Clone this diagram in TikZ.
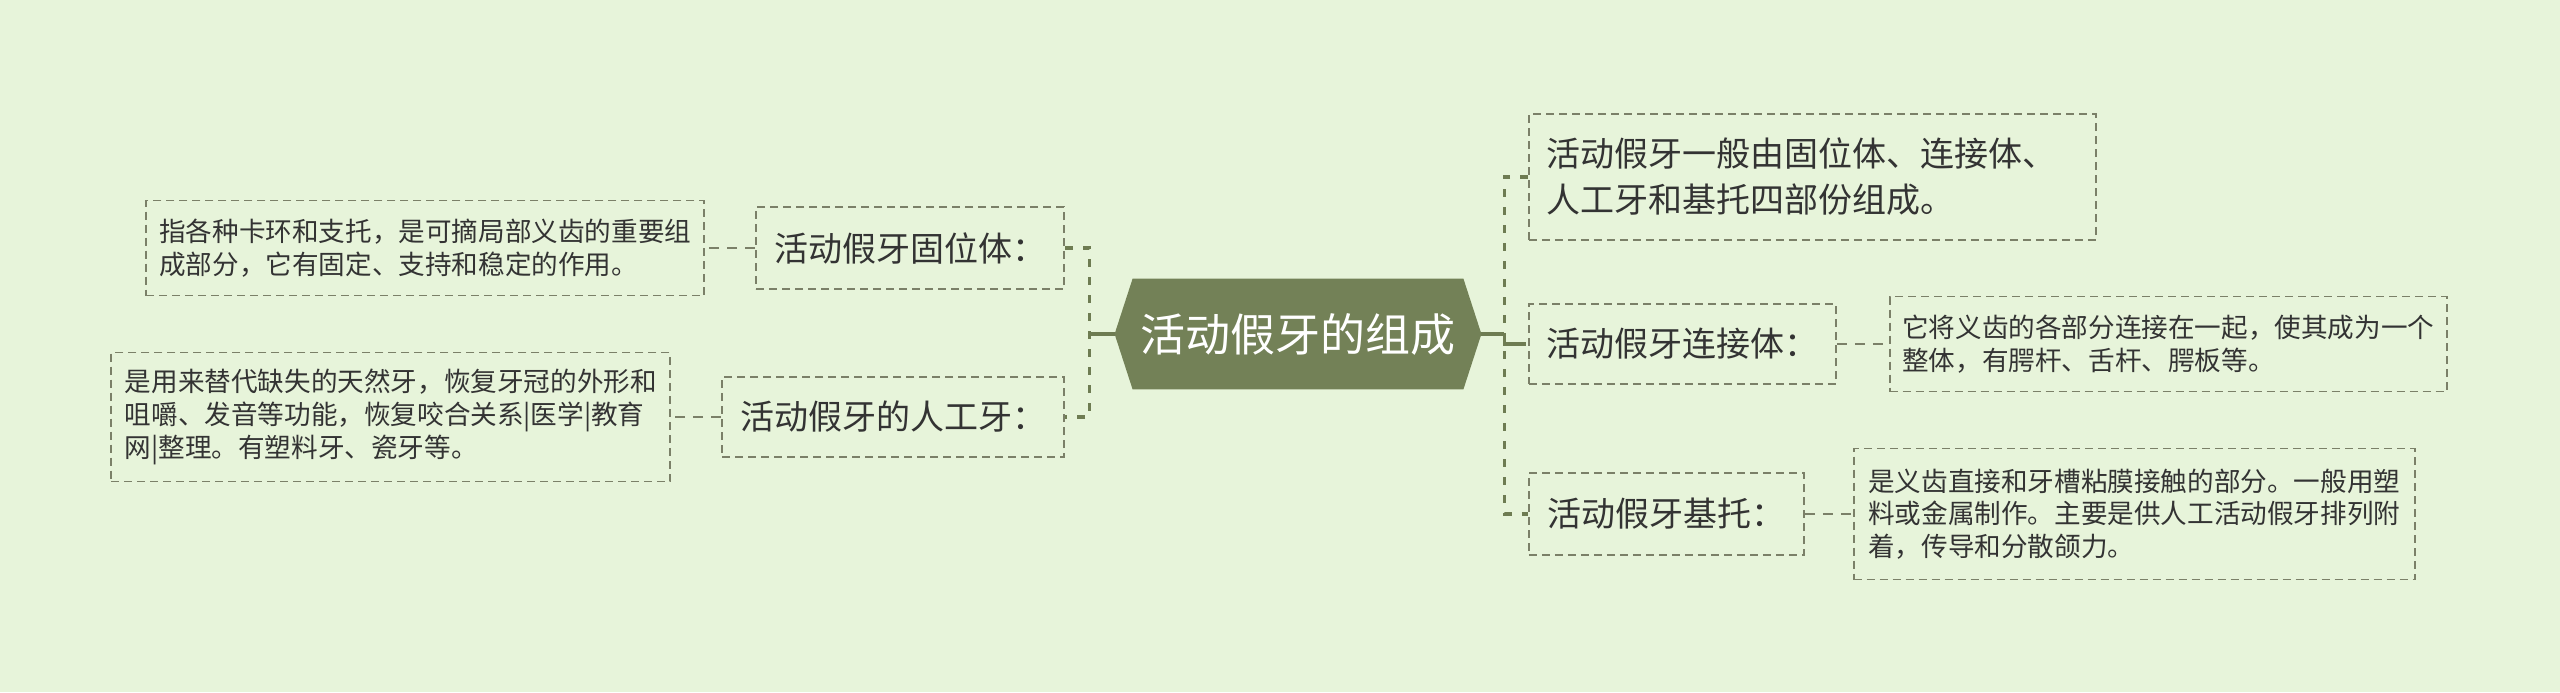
\documentclass[tikz,border=0pt]{standalone}
\usepackage{fontspec}
\newfontfamily\cjk{Noto Sans CJK SC}
\usetikzlibrary{calc,positioning,backgrounds}
\definecolor{paper}{HTML}{E7F4DA}
\definecolor{olive}{HTML}{738157}
\definecolor{branchline}{HTML}{6E7C52}
\definecolor{boxline}{HTML}{7B8068}
\definecolor{ink}{HTML}{333333}
\tikzset{x=.5pt,y=-.5pt,
  every node/.style={font=\cjk,text=ink},
  rootlabel/.style={font=\cjk\fontsize{22.5pt}{27pt}\selectfont,text=white,
    minimum width=165pt,minimum height=55pt,inner sep=0pt},
  topic/.style={draw=boxline,line width=.9pt,dash pattern=on 4pt off 2.5pt,
    font=\cjk\fontsize{17pt}{23pt}\selectfont,align=left,inner sep=0pt},
  note/.style={topic,font=\cjk\fontsize{13.3pt}{16.4pt}\selectfont},
  trunk/.style={draw=branchline,line width=1.7pt},
  branch/.style={trunk,dash pattern=on 4pt off 5pt},
  leaflink/.style={draw=boxline,line width=1pt,dash pattern=on 5pt off 4pt}}
\begin{document}
\begin{tikzpicture}
% one px of the 2560x692 layout is half a point
\useasboundingbox (0,0) rectangle (2560,692);
\node[rootlabel] (root) at (1298,334) {活动假牙的组成};
% left side
\node[topic,anchor=east,minimum width=154pt,minimum height=41pt] (gu) at (1065,248) {活动假牙固位体：};
\node[note,left=25pt of gu,minimum width=279pt,minimum height=47.5pt] (guNote)
  {指各种卡环和支托，是可摘局部义齿的重要组\\成部分，它有固定、支持和稳定的作用。};
\node[topic,anchor=east,minimum width=171pt,minimum height=40pt] (ren) at (1065,417) {活动假牙的人工牙：};
\node[note,left=25pt of ren,minimum width=279.5pt,minimum height=64.5pt] (renNote)
  {是用来替代缺失的天然牙，恢复牙冠的外形和\\咀嚼、发音等功能，恢复咬合关系|医学|教育\\网|整理。有塑料牙、瓷牙等。};
% right side
\node[topic,anchor=west,text width=265.5pt,inner xsep=9pt,minimum height=63pt] (sum) at (1528,177)
  {活动假牙一般由固位体、连接体、\\人工牙和基托四部份组成。};
\node[topic,anchor=west,minimum width=153.5pt,minimum height=40pt] (lian) at (1528,344) {活动假牙连接体：};
\node[note,right=26pt of lian,minimum width=278.5pt,minimum height=47.5pt] (lianNote)
  {它将义齿的各部分连接在一起，使其成为一个\\整体，有腭杆、舌杆、腭板等。};
\node[topic,anchor=west,minimum width=137.5pt,minimum height=41pt] (ji) at (1528,514) {活动假牙基托：};
\node[note,right=24pt of ji,minimum width=280.5pt,minimum height=65.5pt] (jiNote)
  {是义齿直接和牙槽粘膜接触的部分。一般用塑\\料或金属制作。主要是供人工活动假牙排列附\\着，传导和分散颌力。};
\begin{scope}[on background layer]
\fill[paper] (0,0) rectangle (2560,692);
\fill[olive] (root.north west) -- (root.north east) -- ($(root.east)+(18,0)$) coordinate (rootR)
  -- (root.south east) -- (root.south west) -- ($(root.west)+(-18,0)$) coordinate (rootL) -- cycle;
\end{scope}
\draw[trunk] (rootL) -- ++(-25,0) coordinate (leftHub);
\draw[branch] (gu.east) -| (leftHub) |- (ren.east);
\draw[trunk] (rootR) -- ++(23,0) coordinate (rightHub);
\draw[branch] (sum.west) -| (rightHub) |- (ji.west);
\draw[trunk] (rightHub) |- ($(lian.west)+(-10,0)$) coordinate (lianIn);
\draw[branch] (lianIn) -- (lian.west);
\draw[leaflink] (gu.west) -- (guNote.east);
\draw[leaflink] (ren.west) -- (renNote.east);
\draw[leaflink] (lian.east) -- (lianNote.west);
\draw[leaflink] (ji.east) -- (jiNote.west);
\end{tikzpicture}
\end{document}
